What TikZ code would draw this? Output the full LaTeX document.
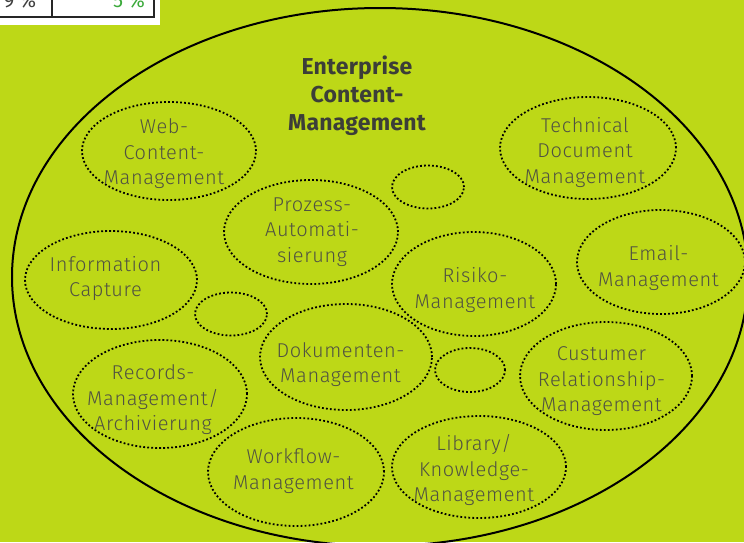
\documentclass[tikz,border=0pt]{standalone}
\usepackage{fontspec}
\setmainfont{Fira Sans}
\newfontfamily\lightfont{Fira Sans Light}[LetterSpace=3]
\newfontfamily\titlefont{Fira Sans}[LetterSpace=1]
\usetikzlibrary{shapes.geometric}
\definecolor{lime}{RGB}{189,216,23}
\definecolor{txtgray}{RGB}{80,82,66}
\definecolor{titlegray}{RGB}{60,62,56}
\definecolor{pctgreen}{RGB}{60,170,60}
\begin{document}
\begin{tikzpicture}[x=1pt,y=-1pt,
  blob/.style={ellipse, draw=black, line width=1.8pt, dash pattern=on 1.8pt off 2.2pt,
    inner sep=0pt},
  blobtext/.style={align=center, text=txtgray, inner sep=0pt,
    font=\lightfont\fontsize{20}{25.5}\selectfont},
  bigring/.style={ellipse, draw=black, line width=2pt, inner sep=0pt},
  titletext/.style={align=center, text=titlegray,
    font=\titlefont\bfseries\fontsize{23}{28}\selectfont},
  pct/.style={anchor=base, font=\fontsize{20}{24}\selectfont}]
\useasboundingbox (0,0) rectangle (744,542);
\fill[lime] (0,0) rectangle (744,542);
% table fragment
\fill[white] (0,0) rectangle (160,25);
\draw[line width=1.5pt, black!85] (0,17) -- (154,17) -- (154,0);
\draw[line width=1.5pt, black!85] (52,0) -- (52,17);
\node[pct, text=black!75] (p9) at (20,7) {9 \%};
\node[pct, text=pctgreen] (p5) at (129,7) {5 \%};
% outer ellipse
\node[bigring, minimum width=736pt, minimum height=538pt] (ecm) at (380,277) {};
\node[titletext] (title) at (357,95.5) {Enterprise\\Content-\\Management};
% sub areas (outlines)
\node[blob, minimum width=174pt, minimum height=98pt] (web) at (169,151) {};
\node[blob, minimum width=176pt, minimum height=102pt] (tech) at (588,148) {};
\node[blob, minimum width=72pt, minimum height=43pt] (e1) at (428,187) {};
\node[blob, minimum width=174pt, minimum height=104pt] (proz) at (311,232) {};
\node[blob, minimum width=172pt, minimum height=98pt] (info) at (111,280) {};
\node[blob, minimum width=168pt, minimum height=104pt] (email) at (661,262) {};
\node[blob, minimum width=164pt, minimum height=104pt] (risk) at (474,284) {};
\node[blob, minimum width=72pt, minimum height=43pt] (e2) at (231,314) {};
\node[blob, minimum width=172pt, minimum height=106pt] (doku) at (346,357) {};
\node[blob, minimum width=70pt, minimum height=44pt] (e3) at (470,370) {};
\node[blob, minimum width=172pt, minimum height=108pt] (crm) at (606,376) {};
\node[blob, minimum width=174pt, minimum height=108pt] (rec) at (160,394) {};
\node[blob, minimum width=176pt, minimum height=108pt] (work) at (296,472) {};
\node[blob, minimum width=174pt, minimum height=102pt] (lib) at (479,467) {};
% sub area labels
\node[blobtext] (web-t) at (164,154) {Web-\\Content-\\Management};
\node[blobtext] (tech-t) at (585,152.5) {Technical\\Document\\Management};
\node[blobtext] (proz-t) at (312,232) {Prozess-\\Automati-\\sierung};
\node[blobtext] (info-t) at (105.5,278.5) {Information\\Capture};
\node[blobtext] (email-t) at (658.5,268) {Email-\\Management};
\node[blobtext] (risk-t) at (475,290) {Risiko-\\Management};
\node[blobtext] (doku-t) at (340.5,364.5) {Dokumenten-\\Management};
\node[blobtext] (crm-t) at (601.5,381.5) {Custumer\\Relationship-\\Management};
\node[blobtext] (rec-t) at (153,400) {Records-\\Management/\\Archivierung};
\node[blobtext] (work-t) at (293.5,471) {Workflow-\\Management};
\node[blobtext] (lib-t) at (474,470.5) {Library/\\Knowledge-\\Management};
\end{tikzpicture}
\end{document}
